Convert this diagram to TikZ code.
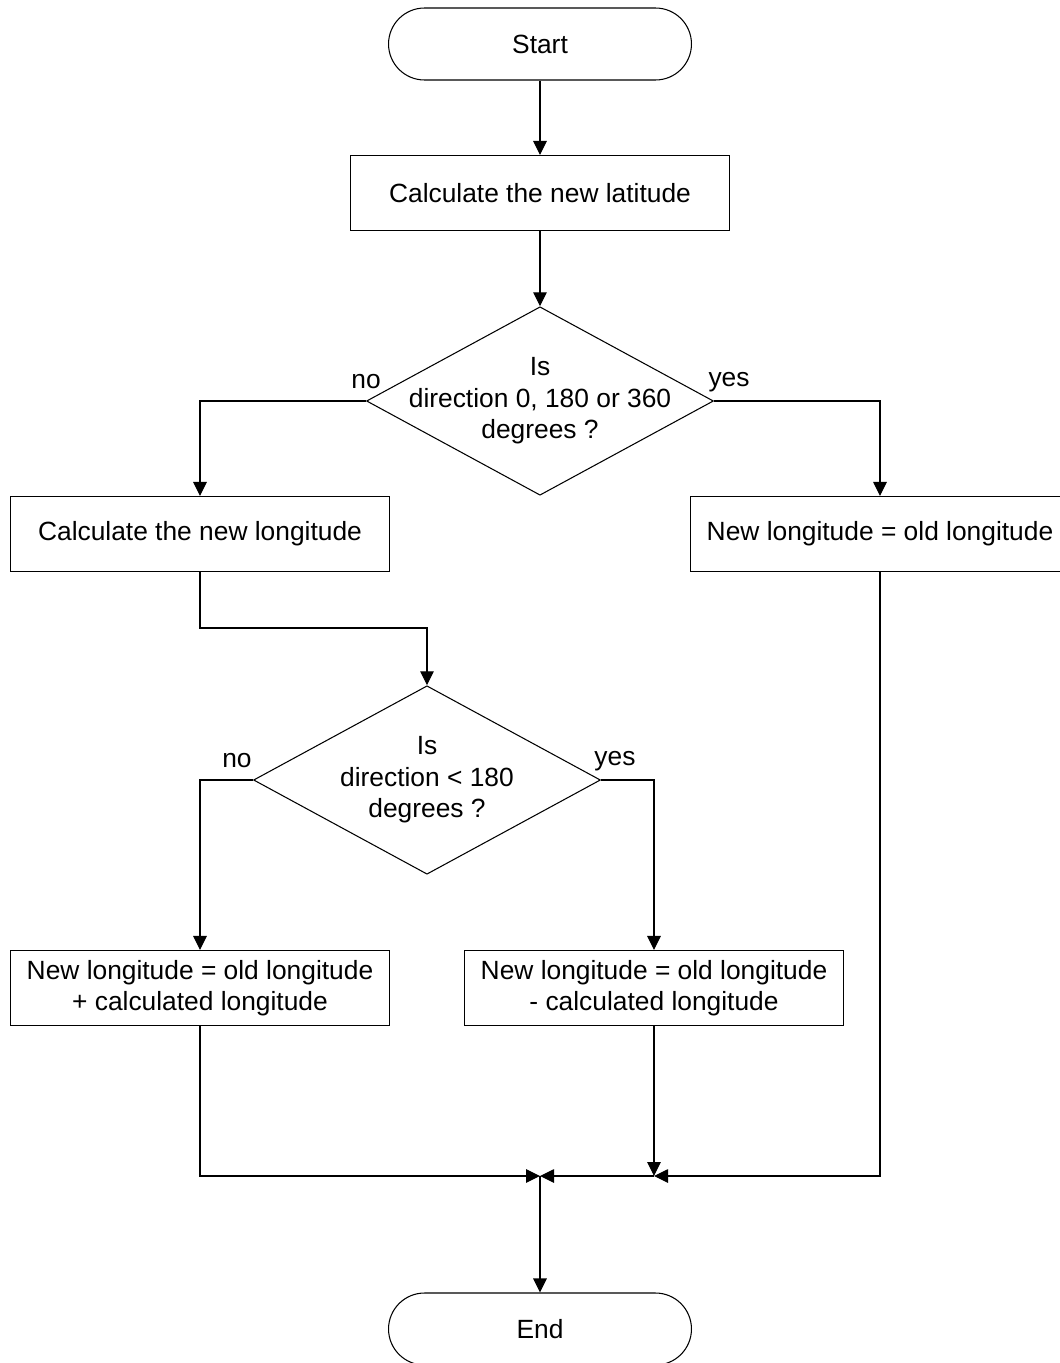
\documentclass[tikz,border=0pt]{standalone}
\usepackage{fontspec}
\setmainfont{Liberation Sans}
\usetikzlibrary{shapes.geometric, arrows.meta, positioning, calc}

\begin{document}
\begin{tikzpicture}[
        x=0.02cm, y=-0.02cm,
        font=\fontsize{15}{18}\selectfont,
        every node/.style={align=center},
        termbox/.style={rectangle, draw, rounded corners=0.72cm, line width=0.6pt, minimum width=6.06cm, minimum height=1.44cm},
        procbox/.style={rectangle, draw, line width=0.6pt, inner sep=2pt, minimum width=7.58cm, minimum height=1.5cm},
        decbox/.style={diamond, draw, line width=0.6pt, inner sep=0pt, minimum width=6.94cm, minimum height=3.77cm},
        arrow/.style={-{Triangle[length=0.28cm, width=0.27cm]}, line width=0.6pt}
      ]
        \useasboundingbox (0,0) rectangle (1059,1363);

        % Start and first step
        \node[termbox] (start) at (540,44) {Start};
        \node[procbox] (lat) at (540,193) {Calculate the new latitude};

        % First decision
        \node[decbox] (isdir) at (540,401) {};
        \node at (isdir) {Is\\direction 0, 180 or 360\\degrees ?};
        \node (no1) at (366,382) {no};
        \node (yes1) at (729,382) {yes};

        \node[procbox] (calclon) at (200,534) {Calculate the new longitude};
        \node[procbox] (samelon) at (880,534) {New longitude = old longitude};

        % Second decision
        \node[decbox] (isless) at (427,780) {};
        \node at (isless) {Is\\direction < 180\\degrees ?};
        \node (no2) at (237,761) {no};
        \node (yes2) at (615,761) {yes};

        \node[procbox] (addlon) at (200,988) {New longitude = old longitude\\+ calculated longitude};
        \node[procbox] (sublon) at (654,988) {New longitude = old longitude\\- calculated longitude};

        \node[termbox] (end) at (540,1329) {End};

        % Connections
        \draw[arrow] (start) -- (lat);
        \draw[arrow] (lat) -- (isdir);
        \draw[arrow] (isdir.west) -| (calclon.north);
        \draw[arrow] (isdir.east) -| (samelon.north);

        \coordinate (kink) at (427,628);
        \draw[arrow] (calclon.south) |- (kink) -- (isless.north);
        \draw[arrow] (isless.west) -| (addlon.north);
        \draw[arrow] (isless.east) -| (sublon.north);

        \coordinate (join) at (540,1176);
        \coordinate (joinr) at (654,1176);
        \draw[arrow] (addlon.south) |- (join);
        \draw[arrow] (sublon.south) -- (joinr);
        \draw[arrow] (samelon.south) |- (joinr);
        \draw[arrow] (joinr) -- (join);
        \draw[arrow] (join) -- (end);
      \end{tikzpicture}
\end{document}
